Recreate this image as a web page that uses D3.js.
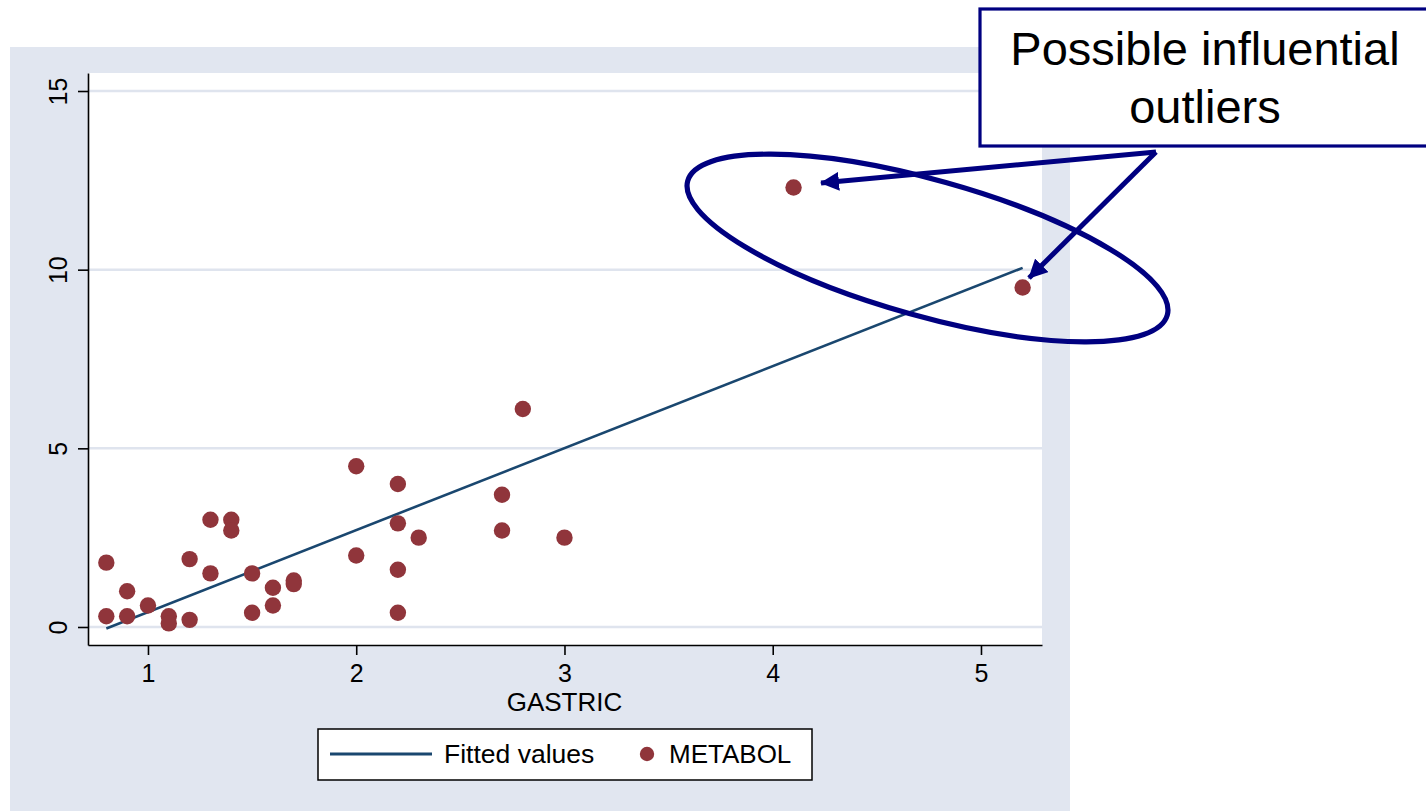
<!DOCTYPE html>
<html>
<head>
<meta charset="utf-8">
<script src="https://cdn.jsdelivr.net/npm/d3@7"></script>
<style>
  html, body { margin: 0; padding: 0; background: #ffffff; }
  svg { display: block; font-family: "Liberation Sans", Arial, Helvetica, sans-serif; }
</style>
</head>
<body>
<svg id="chart" width="1426" height="811"></svg>
<script>
// ---- data ----
const gastric = [0.8, 0.8, 0.9, 0.9, 1.0, 1.1, 1.1, 1.2, 1.2, 1.3, 1.3, 1.4, 1.4, 1.5, 1.5, 1.6,
                 1.6, 1.7, 1.7, 2.0, 2.0, 2.2, 2.2, 2.2, 2.2, 2.3, 2.7, 2.7, 2.8, 3.0, 4.1, 5.2];
const metabol = [1.8, 0.3, 1.0, 0.3, 0.6, 0.3, 0.1, 0.2, 1.9, 3.0, 1.5, 3.0, 2.7, 1.5, 0.4, 1.1,
                 0.6, 1.3, 1.2, 4.5, 2.0, 4.0, 2.9, 1.6, 0.4, 2.5, 3.7, 2.7, 6.1, 2.5, 12.3, 9.5];
const fittedX = [0.8, 5.2];
const fittedY = [-0.04, 10.05];
const xTicks = [1, 2, 3, 4, 5];
const yTicks = [0, 5, 10, 15];
const xTitle = "GASTRIC";
const legendLabels = ["Fitted values", "METABOL"];
const noteLines = ["Possible influential", "outliers"];

// ---- styles ----
const bg = "#e1e6f0";
const lineColor = "#1a476f";
const dotColor = "#90353b";
const navy = "#000080";

const svg = d3.select("#chart");

// outer graph region
svg.append("rect").attr("x", 10).attr("y", 47).attr("width", 1060).attr("height", 764).attr("fill", bg);

const plot = { left: 88, right: 1042, top: 73, bottom: 645 };
svg.append("rect").attr("x", plot.left).attr("y", plot.top)
   .attr("width", plot.right - plot.left).attr("height", plot.bottom - plot.top).attr("fill", "#ffffff");

const x = d3.scaleLinear().domain([0.712, 5.293]).range([plot.left, plot.right]);
const y = d3.scaleLinear().domain([-0.504, 15.504]).range([plot.bottom, plot.top]);

// gridlines
svg.append("g").selectAll("line").data(yTicks).join("line")
  .attr("x1", plot.left).attr("x2", plot.right)
  .attr("y1", d => y(d)).attr("y2", d => y(d))
  .attr("stroke", "#dfe4ee").attr("stroke-width", 2.5);

// axes
const xAxis = svg.append("g").attr("transform", `translate(0,${plot.bottom})`)
  .call(d3.axisBottom(x).tickValues(xTicks).tickSize(10).tickSizeOuter(0).tickPadding(8).tickFormat(d3.format("d")));
const yAxis = svg.append("g").attr("transform", `translate(${plot.left},0)`)
  .call(d3.axisLeft(y).tickValues(yTicks).tickSize(10).tickSizeOuter(0).tickFormat(d3.format("d")));

[xAxis, yAxis].forEach(g => {
  g.select(".domain").attr("stroke", "#000").attr("stroke-width", 1.6);
  g.selectAll(".tick line").attr("stroke", "#000").attr("stroke-width", 1.6);
  g.selectAll("text").attr("fill", "#000").style("font-size", "25px")
   .style("font-family", '"Liberation Sans", Arial, sans-serif');
});
xAxis.selectAll(".tick text").attr("y", 37).attr("dy", null);
yAxis.selectAll(".tick text")
  .attr("x", null).attr("dy", null)
  .attr("text-anchor", "middle")
  .attr("transform", "translate(-21,0) rotate(-90)");

svg.append("text").attr("x", x(3)).attr("y", 711).attr("text-anchor", "middle")
  .style("font-size", "26px").attr("fill", "#000").text(xTitle);

// fitted line
svg.append("line")
  .attr("x1", x(fittedX[0])).attr("y1", y(fittedY[0]))
  .attr("x2", x(fittedX[1])).attr("y2", y(fittedY[1]))
  .attr("stroke", lineColor).attr("stroke-width", 2.6);

// points
svg.append("g").selectAll("circle").data(gastric.map((g, i) => [g, metabol[i]])).join("circle")
  .attr("cx", d => x(d[0])).attr("cy", d => y(d[1])).attr("r", 8.2).attr("fill", dotColor);

// legend
const lg = svg.append("g");
lg.append("rect").attr("x", 318).attr("y", 729).attr("width", 494).attr("height", 51)
  .attr("fill", "#fff").attr("stroke", "#000").attr("stroke-width", 1.5);
lg.append("line").attr("x1", 330).attr("x2", 432).attr("y1", 754).attr("y2", 754)
  .attr("stroke", lineColor).attr("stroke-width", 2.8);
lg.append("text").attr("x", 444).attr("y", 763).style("font-size", "26.5px").attr("fill", "#000").text(legendLabels[0]);
lg.append("circle").attr("cx", 647).attr("cy", 754).attr("r", 7.2).attr("fill", dotColor);
lg.append("text").attr("x", 669).attr("y", 763).style("font-size", "26px").attr("fill", "#000").text(legendLabels[1]);

// annotation: ellipse
svg.append("ellipse").attr("cx", 0).attr("cy", 0).attr("rx", 249).attr("ry", 68)
  .attr("transform", "translate(927.5,248) rotate(15.65)")
  .attr("fill", "none").attr("stroke", navy).attr("stroke-width", 5.2);

// annotation: arrows
svg.append("defs").append("marker").attr("id", "ah")
  .attr("viewBox", "0 0 19 19").attr("refX", 18).attr("refY", 9.5)
  .attr("markerWidth", 19).attr("markerHeight", 19).attr("markerUnits", "userSpaceOnUse")
  .attr("orient", "auto")
  .append("path").attr("d", "M0,0 L19,9.5 L0,19 Z").attr("fill", navy);

const arrowStart = [1156, 152];
const arrowTips = [[821, 183], [1029, 278]];
arrowTips.forEach(t => {
  svg.append("line").attr("x1", arrowStart[0]).attr("y1", arrowStart[1])
    .attr("x2", t[0]).attr("y2", t[1])
    .attr("stroke", navy).attr("stroke-width", 5).attr("marker-end", "url(#ah)");
});

// annotation box
svg.append("rect").attr("x", 980).attr("y", 9).attr("width", 470).attr("height", 137)
  .attr("fill", "#fff").attr("stroke", navy).attr("stroke-width", 3.2);
svg.append("text").attr("x", 1205).attr("y", 65).attr("text-anchor", "middle")
  .style("font-size", "47px").attr("fill", "#000").text(noteLines[0]);
svg.append("text").attr("x", 1205).attr("y", 123).attr("text-anchor", "middle")
  .style("font-size", "47px").attr("fill", "#000").text(noteLines[1]);
</script>
</body>
</html>
